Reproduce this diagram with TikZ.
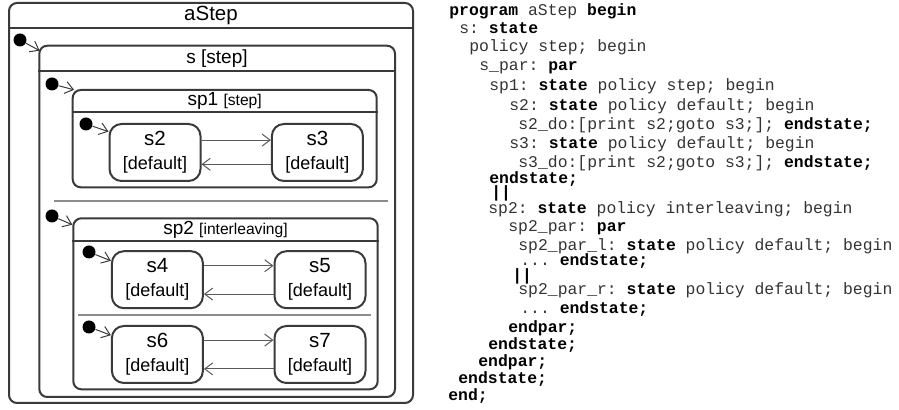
\documentclass[tikz,border=0pt]{standalone}
\usepackage{fontspec}
\setmainfont{Liberation Sans}
\setmonofont{Liberation Mono}
\usepackage{xcolor}
\usepackage{tikz}
\usetikzlibrary{arrows.meta}
\usetikzlibrary{positioning}
\usetikzlibrary{fit}

\definecolor{boxline}{HTML}{3A3A3A}
\definecolor{transline}{HTML}{5A5A5A}
\definecolor{sepline}{HTML}{8C8C8C}
\definecolor{codegray}{HTML}{333333}

% keyword in the listing, policy tag in a title, two-line simple state
\newcommand{\kw}[1]{\textcolor{black}{\textbf{#1}}}
\newcommand{\pol}[1]{{\fontsize{7.8}{9}\selectfont #1}}
\newcommand{\stlabel}[1]{{\fontsize{10.25}{12}\selectfont #1}\\{[default]}}

\tikzset{
  region/.style={draw=boxline, line width=1pt, rounded corners=4pt, inner sep=0pt},
  header/.style={draw=boxline, line width=1pt},
  title/.style={inner sep=0pt, font=\fontsize{9.5}{11}\selectfont},
  simple/.style={draw=boxline, line width=1pt, rounded corners=6pt,
    minimum width=45.5pt, minimum height=28.5pt, inner sep=0pt,
    align=center, font=\fontsize{9}{12}\selectfont},
  init/.style={circle, fill=black, minimum size=6.5pt, inner sep=0pt},
  initarc/.style={draw=boxline, line width=0.5pt, -{Straight Barb[length=4pt,width=6pt]}},
  trans/.style={draw=transline, line width=0.5pt, -{Straight Barb[length=4pt,width=6pt]}},
  sep/.style={draw=sepline, line width=0.8pt},
  code/.style={anchor=base west, inner sep=0pt, text=codegray,
    font=\ttfamily\fontsize{8.2}{10}\selectfont}
}

\begin{document}
\begin{tikzpicture}[x=0.5pt, y=-0.5pt]
\useasboundingbox (0,0) rectangle (899,410);

% top level program
\node[region, fit={(9,3) (413,403)}] (aStep) {};
\node[title, font=\fontsize{10.25}{12}\selectfont] (aStepT) at (211,15.5) {aStep};
\draw[header] (aStep.west |- 0,28) -- (aStep.east |- 0,28);

% s with its two parallel regions
\node[region, fit={(39.3,45.7) (395,397)}] (s) {};
\node[title] (sT) at (217,58.5) {s [step]};
\draw[header] (s.west |- 0,71.3) -- (s.east |- 0,71.3);

% sp1
\node[region, fit={(72.7,90) (376.7,187.3)}] (sp1) {};
\node[title] (sp1T) at (224.7,101) {sp1 \pol{[step]}};
\draw[header] (sp1.west |- 0,112) -- (sp1.east |- 0,112);
\node[simple] (s2) at (155,152.5) {\stlabel{s2}};
\node[simple] (s3) at (317.4,152.5) {\stlabel{s3}};
\draw[trans] ([yshift=6.2pt]s2.east) -- ([yshift=6.2pt]s3.west);
\draw[trans] ([yshift=-5.9pt]s3.west) -- ([yshift=-5.9pt]s2.east);

\draw[sep] (54,201.3) -- (388,201.3);

% sp2 with its own two regions
\node[region, fit={(73.3,218.3) (377.7,389.3)}] (sp2) {};
\node[title] (sp2T) at (225.5,229.7) {sp2 \pol{[interleaving]}};
\draw[header] (sp2.west |- 0,241) -- (sp2.east |- 0,241);
\node[simple] (s4) at (157.4,279.7) {\stlabel{s4}};
\node[simple] (s5) at (320,279.7) {\stlabel{s5}};
\draw[trans] ([yshift=7pt]s4.east) -- ([yshift=7pt]s5.west);
\draw[trans] ([yshift=-7.2pt]s5.west) -- ([yshift=-7.2pt]s4.east);

\draw[sep] (77.7,315) -- (370.7,315);

\node[simple] (s6) at (157.4,354.5) {\stlabel{s6}};
\node[simple] (s7) at (320,354.5) {\stlabel{s7}};
\draw[trans] ([yshift=7.2pt]s6.east) -- ([yshift=7.2pt]s7.west);
\draw[trans] ([yshift=-7.2pt]s7.west) -- ([yshift=-7.2pt]s6.east);

% initial states
\node[init] (i0) at (20,40) {};
\node[init] (i1) at (52,84) {};
\node[init] (i2) at (86,124) {};
\node[init] (i3) at (52,216) {};
\node[init] (i4) at (89,252) {};
\node[init] (i5) at (89,327) {};
\draw[initarc] (i0) -- ([xshift=0.7pt,yshift=-3pt]s.north west);
\draw[initarc] (i1) -- ([xshift=1.2pt,yshift=-0.4pt]sp1.north west);
\draw[initarc] (i2) -- ([yshift=-4.3pt]s2.north west);
\draw[initarc] (i3) -- ([yshift=-3.7pt]sp2.north west);
\draw[initarc] (i4) -- ([yshift=-5.3pt]s4.north west);
\draw[initarc] (i5) -- ([yshift=-5.1pt]s6.north west);

% textual form
\foreach \y/\x/\txt [count=\i] in {
  12/449/{\kw{program} aStep \kw{begin}},
  30/459/{s: \kw{state}},
  48/469/{policy step; begin},
  67/479/{s\_par: \kw{par}},
  87/489/{sp1: \kw{state} policy step; begin},
  107/509/{s2: \kw{state} policy default; begin},
  126/518/{s2\_do:[print s2;goto s3;]; \kw{endstate;}},
  145/509/{s3: \kw{state} policy default; begin},
  164/518/{s3\_do:[print s2;goto s3;]; \kw{endstate;}},
  180/489/{\kw{endstate;}},
  194/491/{\kw{||}},
  210/488/{sp2: \kw{state} policy interleaving; begin},
  228/508/{sp2\_par: \kw{par}},
  247/518/{sp2\_par\_l: \kw{state} policy default; begin},
  262/520/{... \kw{endstate;}},
  277/512/{\kw{||}},
  291/518/{sp2\_par\_r: \kw{state} policy default; begin},
  310/520/{... \kw{endstate;}},
  329/508/{\kw{endpar;}},
  346/488/{\kw{endstate;}},
  363/478/{\kw{endpar;}},
  380/458/{\kw{endstate;}},
  397/448/{\kw{end;}}}
  \node[code] (ln\i) at (\x,\y+4) {\txt};
\end{tikzpicture}
\end{document}
